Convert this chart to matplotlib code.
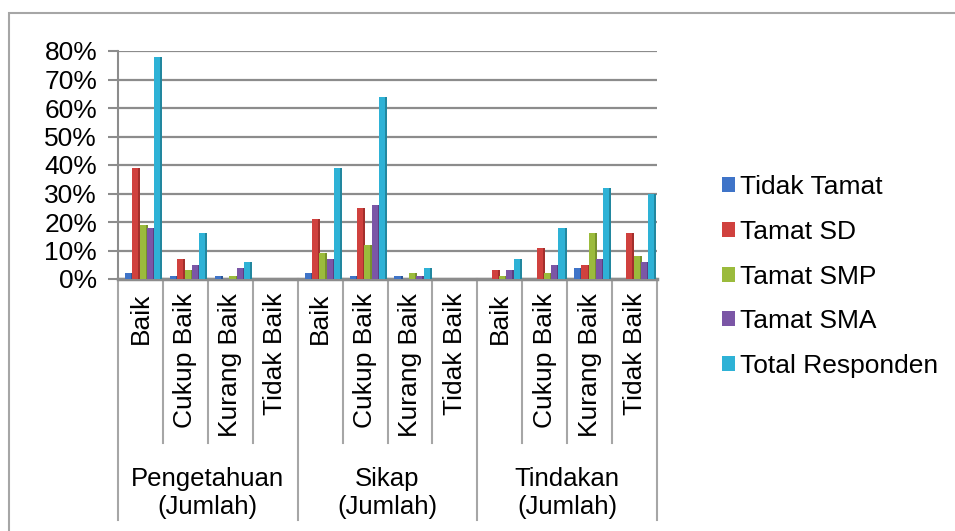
import numpy as np
import matplotlib
matplotlib.use("Agg")
import matplotlib.pyplot as plt
from matplotlib.patches import Rectangle
from matplotlib.transforms import blended_transform_factory

plt.rcParams['font.family'] = ['Liberation Sans', 'DejaVu Sans']

# data (percent)
categories = ['Baik', 'Cukup Baik', 'Kurang Baik', 'Tidak Baik'] * 3
groups = ['Pengetahuan', 'Sikap', 'Tindakan']
series = ['Tidak Tamat', 'Tamat SD', 'Tamat SMP', 'Tamat SMA', 'Total Responden']

tidak_tamat = [2, 1, 1, 0, 2, 1, 1, 0, 0, 0, 4, 0]
tamat_sd = [39, 7, 0, 0, 21, 25, 0, 0, 3, 11, 5, 16]
tamat_smp = [19, 3, 1, 0, 9, 12, 2, 0, 1, 2, 16, 8]
tamat_sma = [18, 5, 4, 0, 7, 26, 1, 0, 3, 5, 7, 6]
total_responden = [78, 16, 6, 0, 39, 64, 4, 0, 7, 18, 32, 30]

front_colors = ['#3f74c8', '#d0413e', '#9bbb3c', '#7b56a6', '#2eb2d6']
side_colors = ['#2d5797', '#a32f2c', '#77922c', '#5c3f80', '#22879f']

W, H = 955, 531
fig = plt.figure(figsize=(W / 100, H / 100), dpi=100)

# outer chart border (right and bottom edges are cut off in the original)
fig.patches.append(Rectangle((9 / W, -0.05), 1.0, 1 - 13 / H + 0.05,
                             transform=fig.transFigure, fill=False,
                             edgecolor='#a6a6a6', linewidth=1.5))

# plot area in pixels: x 118..657, y 0% at 279, 80% at 51
ax = fig.add_axes([118 / W, (H - 279) / H, (657 - 118) / W, (279 - 51) / H])
ax.set_xlim(0, 12)
ax.set_ylim(0, 80)

x = np.arange(len(categories))
values = [tidak_tamat, tamat_sd, tamat_smp, tamat_sma, total_responden]
step, front_w, side_w = 0.163, 0.135, 0.045
for i, vals in enumerate(values):
    left = x + 0.155 + i * step
    ax.bar(left, vals, width=front_w, align='edge', color=front_colors[i],
           label=series[i], zorder=3)
    ax.bar(left + front_w, vals, width=side_w, align='edge',
           color=side_colors[i], zorder=3)

ax.set_yticks(np.arange(0, 81, 10))
ax.set_yticklabels([f'{v}%' for v in range(0, 81, 10)], fontsize=19)
ax.yaxis.grid(True, color='#8c8c8c', linewidth=1.6, zorder=0)
ax.tick_params(axis='y', length=7, width=1.5, color='#8c8c8c', pad=8)
ax.set_xticks([])
for s in ['top', 'right']:
    ax.spines[s].set_visible(False)
ax.spines['left'].set_color('#8c8c8c')
ax.spines['left'].set_linewidth(1.5)
ax.spines['bottom'].set_color('#8c8c8c')
ax.spines['bottom'].set_linewidth(2.5)

# category labels and separators under the axis
tr = blended_transform_factory(ax.transData, ax.transAxes)
ph = 279 - 51
for k, name in enumerate(categories):
    ax.text(k + 0.5, -14 / ph, name, rotation=90, ha='center', va='top',
            fontsize=19, transform=tr)
for k in range(13):
    low = -241 / ph if k % 4 == 0 else -164 / ph
    ax.plot([k, k], [0, low], color='#a6a6a6', linewidth=1.5,
            transform=tr, clip_on=False)
for g, name in enumerate(groups):
    ax.text(g * 4 + 2, -200 / ph, name, ha='center', va='center',
            fontsize=18.5, transform=tr)
    ax.text(g * 4 + 2, -228 / ph, '(Jumlah)', ha='center', va='center',
            fontsize=18.5, transform=tr)

fig.legend(loc='center left', bbox_to_anchor=(722 / W, 1 - 276.5 / H),
           frameon=False, fontsize=19, handlelength=0.5, handleheight=0.5,
           handletextpad=0.2, labelspacing=0.78, borderpad=0,
           borderaxespad=0)

fig.savefig('out.png', dpi=100)
